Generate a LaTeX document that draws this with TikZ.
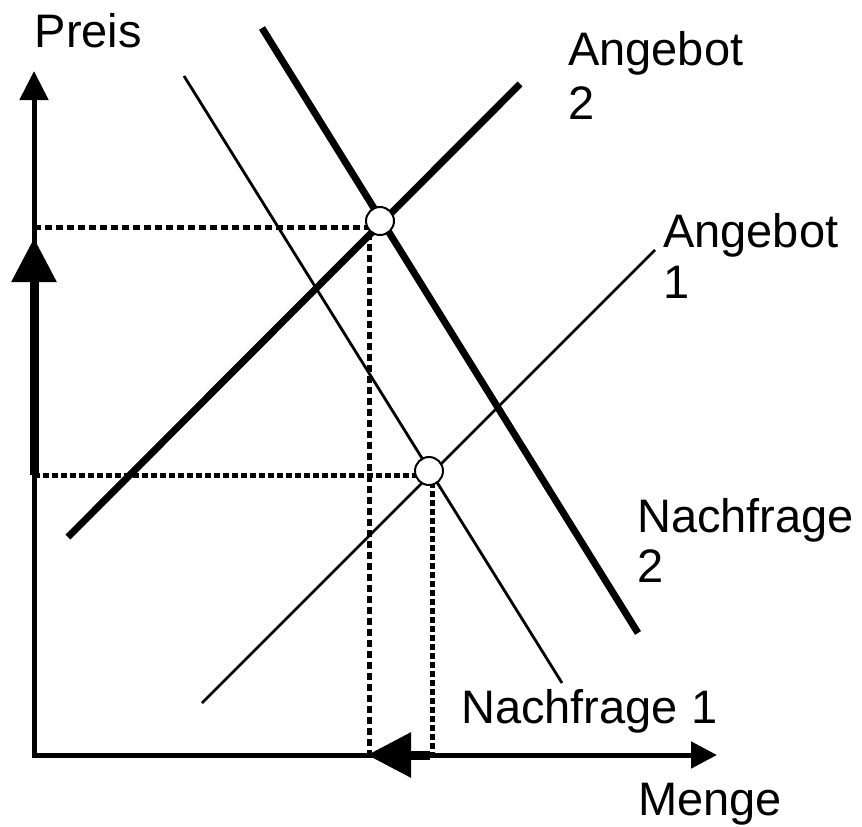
\documentclass[tikz,border=0pt]{standalone}
\usepackage{fontspec}
\setmainfont{Liberation Sans}
\usetikzlibrary{arrows.meta}
\begin{document}
\begin{tikzpicture}[x=1pt,y=-1pt,
  lbl/.style={anchor=base west, inner sep=0pt, align=left, font=\fontsize{47}{52}\selectfont},
  thickline/.style={line width=7pt},
  thinline/.style={line width=2.8pt},
  dotline/.style={line width=5pt, dash pattern=on 7pt off 4pt},
  axisline/.style={line width=5pt, {Triangle[length=29pt,width=28pt]}-{Triangle[length=26pt,width=26pt]}},
  movearrow/.style={line width=9pt, -{Triangle[length=44pt,width=43pt]}},
  eqpoint/.style={circle, draw, fill=white, line width=2pt, minimum size=28pt, inner sep=0pt}
]
\useasboundingbox (0,0) rectangle (862,827);
% coordinates
\coordinate (ytip) at (34,71);
\coordinate (O) at (34,755);
\coordinate (xtip) at (717,755);
\coordinate (p2) at (34,227);
\coordinate (c2) at (369,227);
\coordinate (q2) at (369,755);
\coordinate (p1) at (34,475);
\coordinate (c1) at (432,475);
\coordinate (q1) at (432,755);
\coordinate (a2s) at (68,537);
\coordinate (a2e) at (520,84);
\coordinate (a1s) at (202,703);
\coordinate (a1e) at (655,250);
\coordinate (n2s) at (262,28);
\coordinate (n2e) at (638,633);
\coordinate (n1s) at (184,76);
\coordinate (n1e) at (562,683);
\coordinate (ys) at (34,475);
\coordinate (ye) at (34,238);
\coordinate (xs) at (430,755);
\coordinate (xe) at (367,755);
% dotted guide lines
\draw[dotline] (p2) -- (c2) -- (q2);
\draw[dotline, dash pattern=on 6pt off 3pt] (p1) -- (c1) -- (q1);
% supply and demand curves
\draw[thickline] (a2s) -- (a2e);
\draw[thinline] (a1s) -- (a1e);
\draw[thickline] (n2s) -- (n2e);
\draw[thinline] (n1s) -- (n1e);
% axes
\draw[axisline] (ytip) -- (O) -- (xtip);
% shift arrows
\draw[movearrow] (ys) -- (ye);
\draw[movearrow] (xs) -- (xe);
% equilibria
\node[eqpoint] (E2) at (380,221) {};
\node[eqpoint] (E1) at (429,471) {};
% labels (base anchor = baseline of the last line)
\node[lbl] (preis) at (34.5,47) {Preis};
\node[lbl, font=\fontsize{47}{54}\selectfont] (ang2) at (568,119) {Angebot\\2};
\node[lbl, font=\fontsize{47}{51}\selectfont] (ang1) at (663,298) {Angebot\\1};
\node[lbl, font=\fontsize{47}{50}\selectfont] (nf2) at (637,582) {Nachfrage\\2};
\node[lbl] (nf1) at (461,723) {Nachfrage 1};
\node[lbl] (menge) at (638,815) {Menge};
\end{tikzpicture}
\end{document}
